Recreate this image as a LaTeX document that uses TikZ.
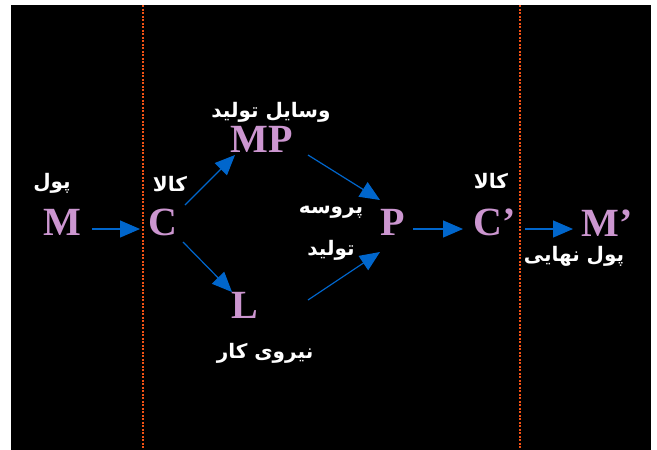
\documentclass[tikz,border=0pt]{standalone}
\usepackage{fontspec}
\setmainfont{Liberation Serif}
\newfontfamily\fa[Script=Arabic]{DejaVu Sans}
\TeXXeTstate=1
\usetikzlibrary{arrows.meta,calc}
\definecolor{lilac}{RGB}{204,150,208}
\definecolor{arrblue}{RGB}{0,102,204}
\definecolor{sep}{RGB}{240,80,20}
\tikzset{
  letter/.style={inner sep=0pt,text=lilac,font=\fontsize{40}{42}\selectfont\bfseries},
  falabel/.style={inner sep=0pt,text=white,font=\fa\bfseries\fontsize{20}{22}\selectfont},
  flow/.style={draw=arrblue,line width=1.2pt,-{Triangle[length=20pt,width=17pt]}},
  divider/.style={draw=sep,line width=2pt,dash pattern=on 2pt off 1.5pt}
}
\begin{document}
\begin{tikzpicture}[x=1pt,y=-1pt]
\useasboundingbox (0,0) rectangle (657,450);
\fill[white] (0,0) rectangle (657,450);
\fill[black] (11,5) rectangle (651,450);
\draw[divider] (142.5,5) -- (142.5,450);
\draw[divider] (519.5,5) -- (519.5,450);
% letters
\node[letter] (M) at (62,222) {M};
\node[letter] (C) at (163,222) {C};
\node[letter] (MP) at (262,139) {MP};
\node[letter] (L) at (245,305) {L};
\node[letter] (P) at (393,222) {P};
\node[letter] (C2) at (495,222) {C’};
\node[letter] (M2) at (607,223) {M’};
% labels
\node[falabel] (l1) at (52,183) {\beginR پول\endR};
\node[falabel] (l2) at (170,184) {\beginR کالا\endR};
\node[falabel] (l3) at (271,112) {\beginR وسایل تولید\endR};
\node[falabel] (l4) at (265,353) {\beginR نیروی کار\endR};
\node[falabel] (l5) at (331,212) {\beginR پروسه\endR};
\node[falabel] (l6) at (331,250) {\beginR تولید\endR};
\node[falabel] (l7) at (491,181) {\beginR کالا\endR};
\node[falabel] (l8) at (574,256) {\beginR پول نهایی\endR};
% arrows
\draw[flow] ($(M)+(30,7)$) -- ($(C)+(-23,7)$);
\draw[flow] ($(C)+(22,-17)$) -- ($(MP)+(-27,16)$);
\draw[flow] ($(C)+(20,20)$) -- ($(L)+(-13,-13)$);
\draw[flow] ($(MP)+(46,16)$) -- ($(P)+(-13,-22)$);
\draw[flow] ($(L)+(63,-5)$) -- ($(P)+(-13,30)$);
\draw[flow] ($(P)+(20,7)$) -- ($(C2)+(-32,7)$);
\draw[flow] ($(C2)+(30,7)$) -- ($(M2)+(-34,6)$);
\end{tikzpicture}
\end{document}
